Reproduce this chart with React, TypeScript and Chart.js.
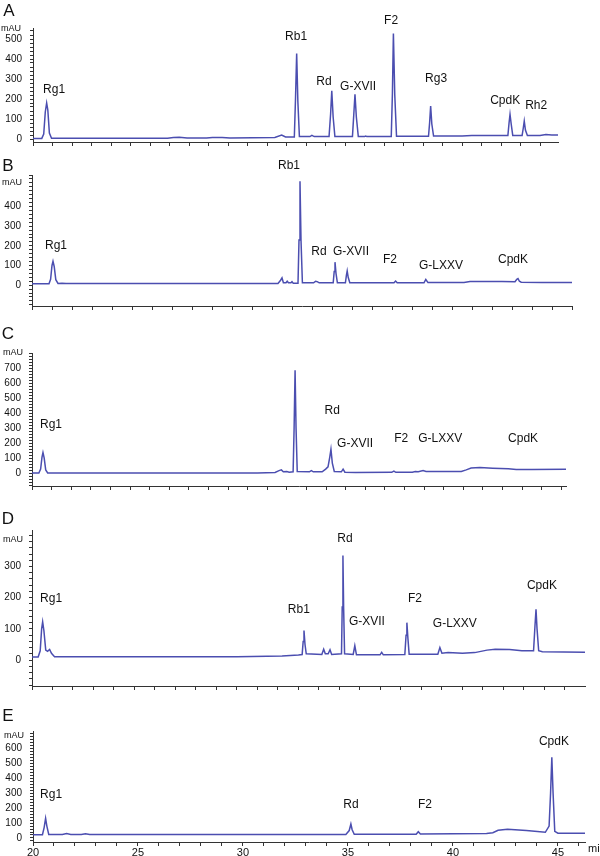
import React, { useEffect, useRef } from 'react';
import { Chart, registerables } from 'chart.js';

Chart.register(...registerables);

// ---------- DATA: retention time (min), absorbance (mAU) ----------
const traceA: number[][] = [
  [20, 3], [20.45, 3], [20.55, 25], [20.63, 135], [20.7, 180], [20.76, 145], [20.84, 30], [20.95, 4],
  [26.9, 4], [27.2, 8], [27.5, 9], [27.9, 5], [28.9, 5], [29.2, 8], [29.7, 7], [30.1, 5],
  [32.4, 8], [32.75, 20], [32.95, 10], [33.4, 10], [33.46, 200], [33.52, 428], [33.58, 190], [33.66, 12],
  [34.2, 12], [34.3, 18], [34.42, 12], [35.18, 12], [35.26, 125], [35.32, 241], [35.39, 110], [35.48, 12],
  [36.38, 12], [36.45, 125], [36.51, 223], [36.58, 110], [36.68, 12], [37.0, 12], [37.06, 15], [37.12, 12],
  [38.37, 12], [38.43, 230], [38.48, 528], [38.55, 220], [38.64, 14], [40.28, 14], [40.34, 85], [40.39, 165],
  [40.45, 75], [40.54, 15], [42, 15], [42.5, 17], [44.35, 17], [44.41, 80], [44.46, 123], [44.52, 75],
  [44.6, 18], [45.08, 18], [45.14, 55], [45.19, 90], [45.25, 45], [45.35, 18], [46.0, 17], [46.3, 22],
  [46.6, 20], [46.92, 20],
];
const traceB: number[][] = [
  [20, 7], [20.85, 7], [20.93, 30], [21.0, 100], [21.05, 121], [21.11, 95], [21.19, 28], [21.3, 9],
  [21.5, 10], [21.7, 8], [28, 8], [32.3, 9], [32.43, 25], [32.5, 37], [32.57, 12], [32.7, 12], [32.76, 20],
  [32.82, 12], [32.95, 12], [33.0, 18], [33.06, 10], [33.3, 10], [33.35, 230], [33.4, 528], [33.45, 230],
  [33.52, 12], [34.08, 12], [34.18, 20], [34.26, 18], [34.36, 12], [35.06, 12], [35.11, 70], [35.15, 117],
  [35.2, 60], [35.27, 12], [35.67, 12], [35.72, 50], [35.76, 72], [35.81, 40], [35.89, 12], [38.1, 12],
  [38.18, 21], [38.26, 12], [39.6, 12], [39.69, 29], [39.8, 13], [41.6, 13], [41.9, 18], [42.2, 19],
  [43.5, 18], [44.15, 17], [44.24, 30], [44.3, 34], [44.37, 20], [44.46, 15], [45.5, 14], [47.0, 13],
];
const traceC: number[][] = [
  [20, 4], [20.35, 4], [20.44, 30], [20.51, 110], [20.56, 140], [20.62, 105], [20.7, 25], [20.8, 5],
  [23, 4], [31.5, 5], [32.4, 8], [32.6, 20], [32.72, 25], [32.82, 12], [33.0, 14], [33.12, 10], [33.32, 12],
  [33.37, 300], [33.42, 687], [33.47, 300], [33.53, 14], [34.15, 12], [34.25, 20], [34.35, 12], [34.8, 12],
  [34.98, 30], [35.1, 45], [35.19, 110], [35.25, 162], [35.32, 70], [35.42, 14], [35.78, 12], [35.87, 30],
  [35.96, 10], [36.5, 8], [38.35, 9], [38.46, 17], [38.56, 9], [39.4, 10], [39.55, 14], [39.7, 12],
  [39.95, 20], [40.1, 14], [41.9, 15], [42.15, 25], [42.4, 37], [42.85, 40], [43.5, 36], [44.3, 32],
  [44.7, 27], [45.5, 27], [47.24, 30],
];
const traceD: number[][] = [
  [20, 10], [20.3, 10], [20.4, 30], [20.47, 100], [20.52, 123], [20.58, 95], [20.67, 32], [20.76, 28],
  [20.86, 34], [20.95, 22], [21.1, 11], [30, 11], [32.2, 13], [33.0, 16], [33.18, 18], [33.23, 60],
  [33.27, 95], [33.32, 50], [33.38, 20], [34.14, 18], [34.23, 35], [34.31, 20], [34.45, 20], [34.54, 33],
  [34.62, 18], [35.1, 20], [35.135, 170], [35.17, 335], [35.205, 165], [35.25, 20], [35.67, 18], [35.75, 46],
  [35.83, 17], [36.98, 17], [37.06, 25], [37.14, 17], [38.19, 18], [38.25, 80], [38.29, 120], [38.34, 70],
  [38.4, 19], [39.8, 19], [39.9, 40], [40.0, 22], [40.3, 24], [41.0, 22], [41.6, 24], [42.2, 32],
  [42.6, 35], [43.3, 34], [43.9, 30], [44.47, 30], [44.54, 110], [44.59, 163], [44.64, 100], [44.72, 30],
  [44.9, 27], [46.98, 25],
];
const traceE: number[][] = [
  [20, 22], [20.45, 22], [20.53, 70], [20.6, 132], [20.66, 80], [20.75, 24], [21.4, 23], [21.6, 30],
  [21.8, 24], [22.3, 23], [22.5, 28], [22.7, 23], [34.9, 24], [35.06, 50], [35.14, 94], [35.2, 55],
  [35.3, 25], [38.25, 25], [38.35, 42], [38.45, 27], [41.6, 30], [41.9, 35], [42.15, 52], [42.6, 58],
  [43.5, 50], [44.4, 38], [44.58, 80], [44.65, 300], [44.71, 541], [44.77, 300], [44.85, 45], [45.0, 32],
  [46.29, 31], [46.9, 31],
];

// peak names with anchor (time, mAU) of their label
const peaksA: [string, number, number][] = [
  ['Rg1', 21.08, 245], ['Rb1', 33.49, 510], ['Rd', 34.92, 285], ['G-XVII', 36.67, 260],
  ['F2', 38.36, 590], ['Rg3', 40.67, 300], ['CpdK', 44.21, 190], ['Rh2', 45.8, 165],
];
const peaksB: [string, number, number][] = [
  ['Rg1', 21.2, 203], ['Rb1', 32.85, 609], ['Rd', 34.35, 169], ['G-XVII', 35.95, 169],
  ['F2', 37.9, 130], ['G-LXXV', 40.45, 101], ['CpdK', 44.05, 130],
];
const peaksC: [string, number, number][] = [
  ['Rg1', 20.97, 322], ['Rd', 35.31, 416], ['G-XVII', 36.48, 202], ['F2', 38.83, 233],
  ['G-LXXV', 40.82, 233], ['CpdK', 45.05, 233],
];
const peaksD: [string, number, number][] = [
  ['Rg1', 20.93, 197], ['Rb1', 33.02, 163], ['Rd', 35.27, 388], ['G-XVII', 36.34, 123],
  ['F2', 38.68, 197], ['G-LXXV', 40.63, 117], ['CpdK', 44.88, 240],
];
const peaksE: [string, number, number][] = [
  ['Rg1', 20.86, 289], ['Rd', 35.14, 221], ['F2', 38.67, 221], ['CpdK', 44.81, 644],
];

const yLabelMaxes = [500, 400, 700, 300, 600];
const panelLetters = ['A', 'B', 'C', 'D', 'E'];

// ---------- LAYOUT (pixels) ----------
type Panel = {
  letter: string; trace: number[][]; peaks: [string, number, number][];
  top: number; height: number; aTop: number; aBottom: number; aLeft: number; aRight: number;
  xMax: number; yMin: number; yMax: number; yLabelMax: number; xLabels: boolean;
  letterPos: [number, number]; mauPos: [number, number];
};

const panels: Panel[] = [
  { letter: panelLetters[0], trace: traceA, peaks: peaksA, top: 0, height: 160, aTop: 28, aBottom: 142, aLeft: 33, aRight: 558,
    xMax: 46.92, yMin: -15, yMax: 555, yLabelMax: yLabelMaxes[0], xLabels: false, letterPos: [9, 11], mauPos: [11, 29] },
  { letter: panelLetters[1], trace: traceB, peaks: peaksB, top: 148, height: 172, aTop: 175, aBottom: 313, aLeft: 32, aRight: 572,
    xMax: 47.0, yMin: -106, yMax: 560, yLabelMax: yLabelMaxes[1], xLabels: false, letterPos: [8, 166], mauPos: [12, 183] },
  { letter: panelLetters[2], trace: traceC, peaks: peaksC, top: 320, height: 180, aTop: 353, aBottom: 493, aLeft: 32, aRight: 566,
    xMax: 47.24, yMin: -82, yMax: 801, yLabelMax: yLabelMaxes[2], xLabels: false, letterPos: [8, 334], mauPos: [13, 353] },
  { letter: panelLetters[3], trace: traceD, peaks: peaksD, top: 500, height: 200, aTop: 530, aBottom: 693, aLeft: 32, aRight: 585,
    xMax: 46.98, yMin: -83, yMax: 417, yLabelMax: yLabelMaxes[3], xLabels: false, letterPos: [8, 519], mauPos: [13, 540] },
  { letter: panelLetters[4], trace: traceE, peaks: peaksE, top: 700, height: 156, aTop: 731, aBottom: 842, aLeft: 33, aRight: 585,
    xMax: 46.29, yMin: -27, yMax: 718, yLabelMax: yLabelMaxes[4], xLabels: true, letterPos: [8, 716], mauPos: [14, 736] },
];

const FONT = "'Liberation Sans', Arial, sans-serif";
const AXIS = '#333333';
const LINE = '#4b4eb0';

function PanelChart({ p }: { p: Panel }) {
  const ref = useRef<HTMLCanvasElement | null>(null);
  useEffect(() => {
    if (!ref.current) return;
    const xH = p.xLabels ? 14 : 6;
    const textPlugin = {
      id: 'peakText',
      afterDraw(chart: any) {
        const ctx = chart.ctx as CanvasRenderingContext2D;
        const xs = chart.scales.x;
        const ys = chart.scales.y;
        ctx.save();
        ctx.fillStyle = '#111';
        ctx.textAlign = 'center';
        ctx.textBaseline = 'middle';
        ctx.font = `12px ${FONT}`;
        p.peaks.forEach(([name, t, v]) => {
          ctx.fillText(name, xs.getPixelForValue(t), ys.getPixelForValue(v));
        });
        ctx.font = `17px ${FONT}`;
        ctx.fillText(p.letter, p.letterPos[0], p.letterPos[1] - p.top);
        ctx.font = `9px ${FONT}`;
        ctx.fillText('mAU', p.mauPos[0], p.mauPos[1] - p.top);
        if (p.xLabels) {
          ctx.font = `11px ${FONT}`;
          ctx.textAlign = 'left';
          ctx.fillText('mi', 588, 849 - p.top);
        }
        ctx.restore();
      },
    };
    const chart = new Chart(ref.current, {
      type: 'line',
      data: {
        datasets: [{
          data: p.trace.map(([x, y]) => ({ x, y })),
          borderColor: LINE,
          borderWidth: 1.5,
          pointRadius: 0,
          tension: 0,
          fill: false,
          clip: false as any,
        }],
      },
      options: {
        responsive: false,
        animation: false,
        events: [],
        layout: {
          padding: {
            top: p.aTop - p.top,
            left: 0,
            right: 600 - p.aRight,
            bottom: p.top + p.height - p.aBottom - xH,
          },
        },
        plugins: { legend: { display: false }, tooltip: { enabled: false } },
        scales: {
          x: {
            type: 'linear',
            min: 20,
            max: p.xMax,
            afterBuildTicks: (s: any) => {
              const arr = [];
              for (let v = 20; v <= Math.floor(p.xMax); v++) arr.push({ value: v });
              s.ticks = arr;
            },
            afterFit: (s: any) => { s.height = xH; },
            grid: { drawOnChartArea: false, drawTicks: true, tickLength: 4, color: AXIS, tickColor: AXIS },
            border: { display: true, color: AXIS, width: 1 },
            ticks: {
              display: p.xLabels,
              autoSkip: false,
              maxRotation: 0,
              padding: 0,
              color: '#111',
              font: { family: FONT, size: 11 },
              callback: (v: any) => (Number(v) % 5 === 0 ? String(v) : ''),
            },
          },
          y: {
            type: 'linear',
            min: p.yMin,
            max: p.yMax,
            afterBuildTicks: (s: any) => {
              const arr = [];
              for (let v = Math.ceil(p.yMin / 20) * 20; v <= p.yMax; v += 20) arr.push({ value: v });
              s.ticks = arr;
            },
            afterFit: (s: any) => { s.width = p.aLeft; },
            grid: { drawOnChartArea: false, drawTicks: true, tickLength: 3, color: AXIS, tickColor: AXIS },
            border: { display: true, color: AXIS, width: 1 },
            ticks: {
              autoSkip: false,
              padding: 8,
              color: '#111',
              font: { family: FONT, size: 10 },
              callback: (v: any) => {
                const n = Number(v);
                return n % 100 === 0 && n >= 0 && n <= p.yLabelMax ? String(n) : '';
              },
            },
          },
        },
      },
      plugins: [textPlugin],
    } as any);
    return () => chart.destroy();
  }, [p]);
  return (
    <canvas
      ref={ref}
      width={600}
      height={p.height}
      style={{ position: 'absolute', left: 0, top: p.top, width: 600, height: p.height, display: 'block' }}
    />
  );
}

export default function App() {
  return (
    <div style={{ position: 'absolute', left: 0, top: 0, width: 600, height: 856, background: '#fff', overflow: 'hidden' }}>
      {panels.map((p) => <PanelChart key={p.letter} p={p} />)}
    </div>
  );
}
